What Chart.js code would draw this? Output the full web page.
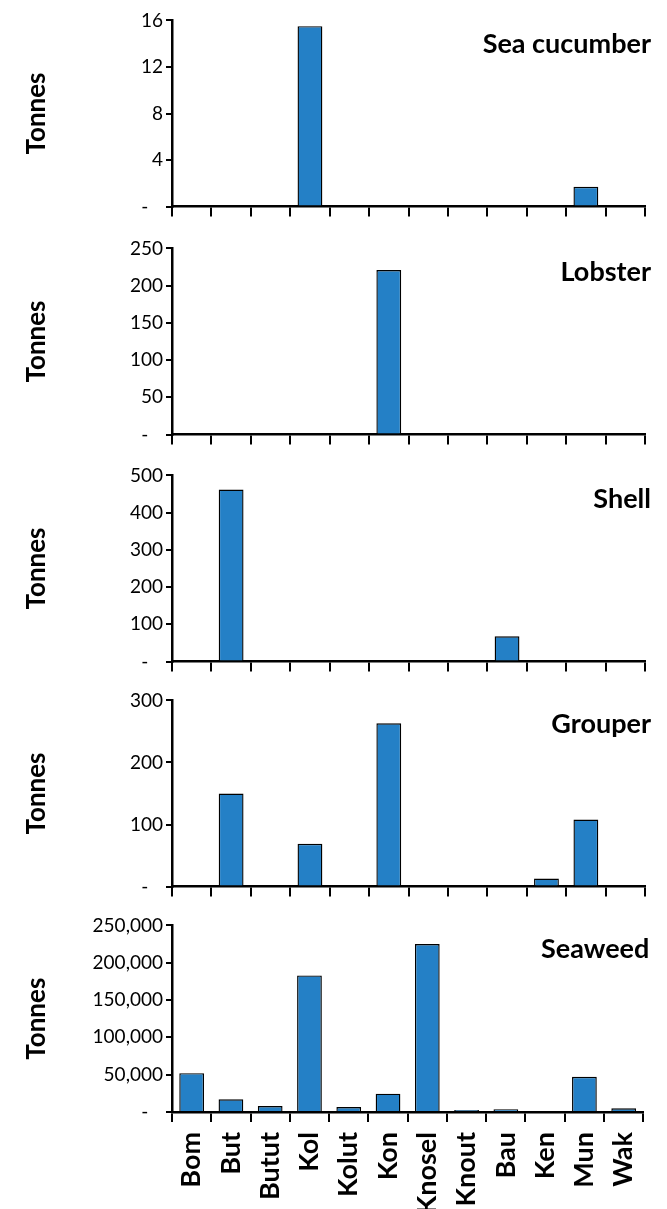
<!DOCTYPE html>
<html>
<head>
<meta charset="utf-8">
<script src="https://cdn.jsdelivr.net/npm/chart.js@4.4.1/dist/chart.umd.min.js"></script>
<style>
  html, body { margin: 0; padding: 0; background: #fff; }
  #wrap { position: relative; width: 667px; height: 1209px; overflow: hidden; }
  .panel { position: absolute; left: 0; width: 667px; }
</style>
</head>
<body>
<div id="wrap"></div>
<script>
// villages along the x axis
const sites = ['Bom', 'But', 'Butut', 'Kol', 'Kolut', 'Kon', 'Knosel', 'Knout', 'Bau', 'Ken', 'Mun', 'Wak'];

// tonnes per site
const seaCucumber = [0, 0, 0, 15.5, 0, 0, 0, 0, 0, 0, 1.7, 0];
const lobster     = [0, 0, 0, 0, 0, 221, 0, 0, 0, 0, 0, 0];
const shell       = [0, 462, 0, 0, 0, 0, 0, 0, 68, 0, 0, 0];
const grouper     = [0, 150, 0, 69, 0, 263, 0, 0, 0, 13, 108, 0];
const seaweed     = [52000, 17000, 8000, 183000, 6700, 24500, 225000, 2700, 3600, 0, 47200, 4900];

const panelNames = ['Sea cucumber', 'Lobster', 'Shell', 'Grouper', 'Seaweed'];
const panelData  = [seaCucumber, lobster, shell, grouper, seaweed];
const yMax       = [16, 250, 500, 300, 250000];
const yStep      = [4, 50, 100, 100, 50000];

// where each plot area starts (px from top), all plots are the same height
const plotTops = [20, 248, 475, 700, 925];
const plotH = 187;
const padTop = 14;

const FONT = 'Lato, "Liberation Sans", sans-serif';

const titleInside = {
  id: 'titleInside',
  afterDraw(chart, args, opts) {
    const { ctx, chartArea } = chart;
    ctx.save();
    ctx.font = 'bold 27px ' + FONT;
    ctx.fillStyle = '#000';
    ctx.textAlign = 'right';
    ctx.textBaseline = 'middle';
    ctx.fillText(opts.text, chartArea.right + 6, chartArea.top + 24);
    ctx.restore();
  }
};

const wrap = document.getElementById('wrap');

panelNames.forEach((name, i) => {
  const last = i === panelNames.length - 1;
  const top = plotTops[i] - padTop;
  const h = last ? 1209 - top : padTop + plotH + 14;
  const xAxisH = h - padTop - plotH;

  const div = document.createElement('div');
  div.className = 'panel';
  div.style.top = top + 'px';
  div.style.height = h + 'px';
  const cv = document.createElement('canvas');
  div.appendChild(cv);
  wrap.appendChild(div);

  new Chart(cv, {
    type: 'bar',
    data: {
      labels: sites,
      datasets: [{
        label: name,
        data: panelData[i],
        backgroundColor: '#2480C6',
        borderColor: '#000',
        borderWidth: 1.4,
        barPercentage: 0.63,
        categoryPercentage: 1.0
      }]
    },
    plugins: [titleInside],
    options: {
      responsive: true,
      maintainAspectRatio: false,
      animation: false,
      layout: { padding: { top: padTop, right: 22, bottom: 0, left: 0 } },
      plugins: {
        legend: { display: false },
        tooltip: { enabled: false },
        titleInside: { text: name }
      },
      scales: {
        x: {
          grid: {
            offset: true,
            drawOnChartArea: false,
            drawTicks: true,
            tickLength: 10,
            color: '#000',
            lineWidth: 2
          },
          border: { color: '#000', width: 2.5 },
          ticks: {
            display: last,
            autoSkip: false,
            minRotation: 90,
            maxRotation: 90,
            padding: 10,
            color: '#000',
            font: { family: FONT, size: 27, weight: 'bold' }
          },
          afterFit(scale) { scale.height = xAxisH; }
        },
        y: {
          min: 0,
          max: yMax[i],
          grid: {
            drawOnChartArea: false,
            drawTicks: true,
            tickLength: 6,
            color: '#000',
            lineWidth: 2
          },
          border: { color: '#000', width: 2.5 },
          ticks: {
            stepSize: yStep[i],
            padding: 3,
            color: '#000',
            font: { family: FONT, size: 19 },
            callback: v => v === 0 ? '-   ' : v.toLocaleString('en-US')
          },
          title: {
            display: true,
            text: 'Tonnes',
            color: '#000',
            font: { family: FONT, size: 26, weight: 'bold' },
            padding: { top: 21, bottom: 0 }
          },
          afterFit(scale) { scale.width = 172; }
        }
      }
    }
  });
});
</script>
</body>
</html>
